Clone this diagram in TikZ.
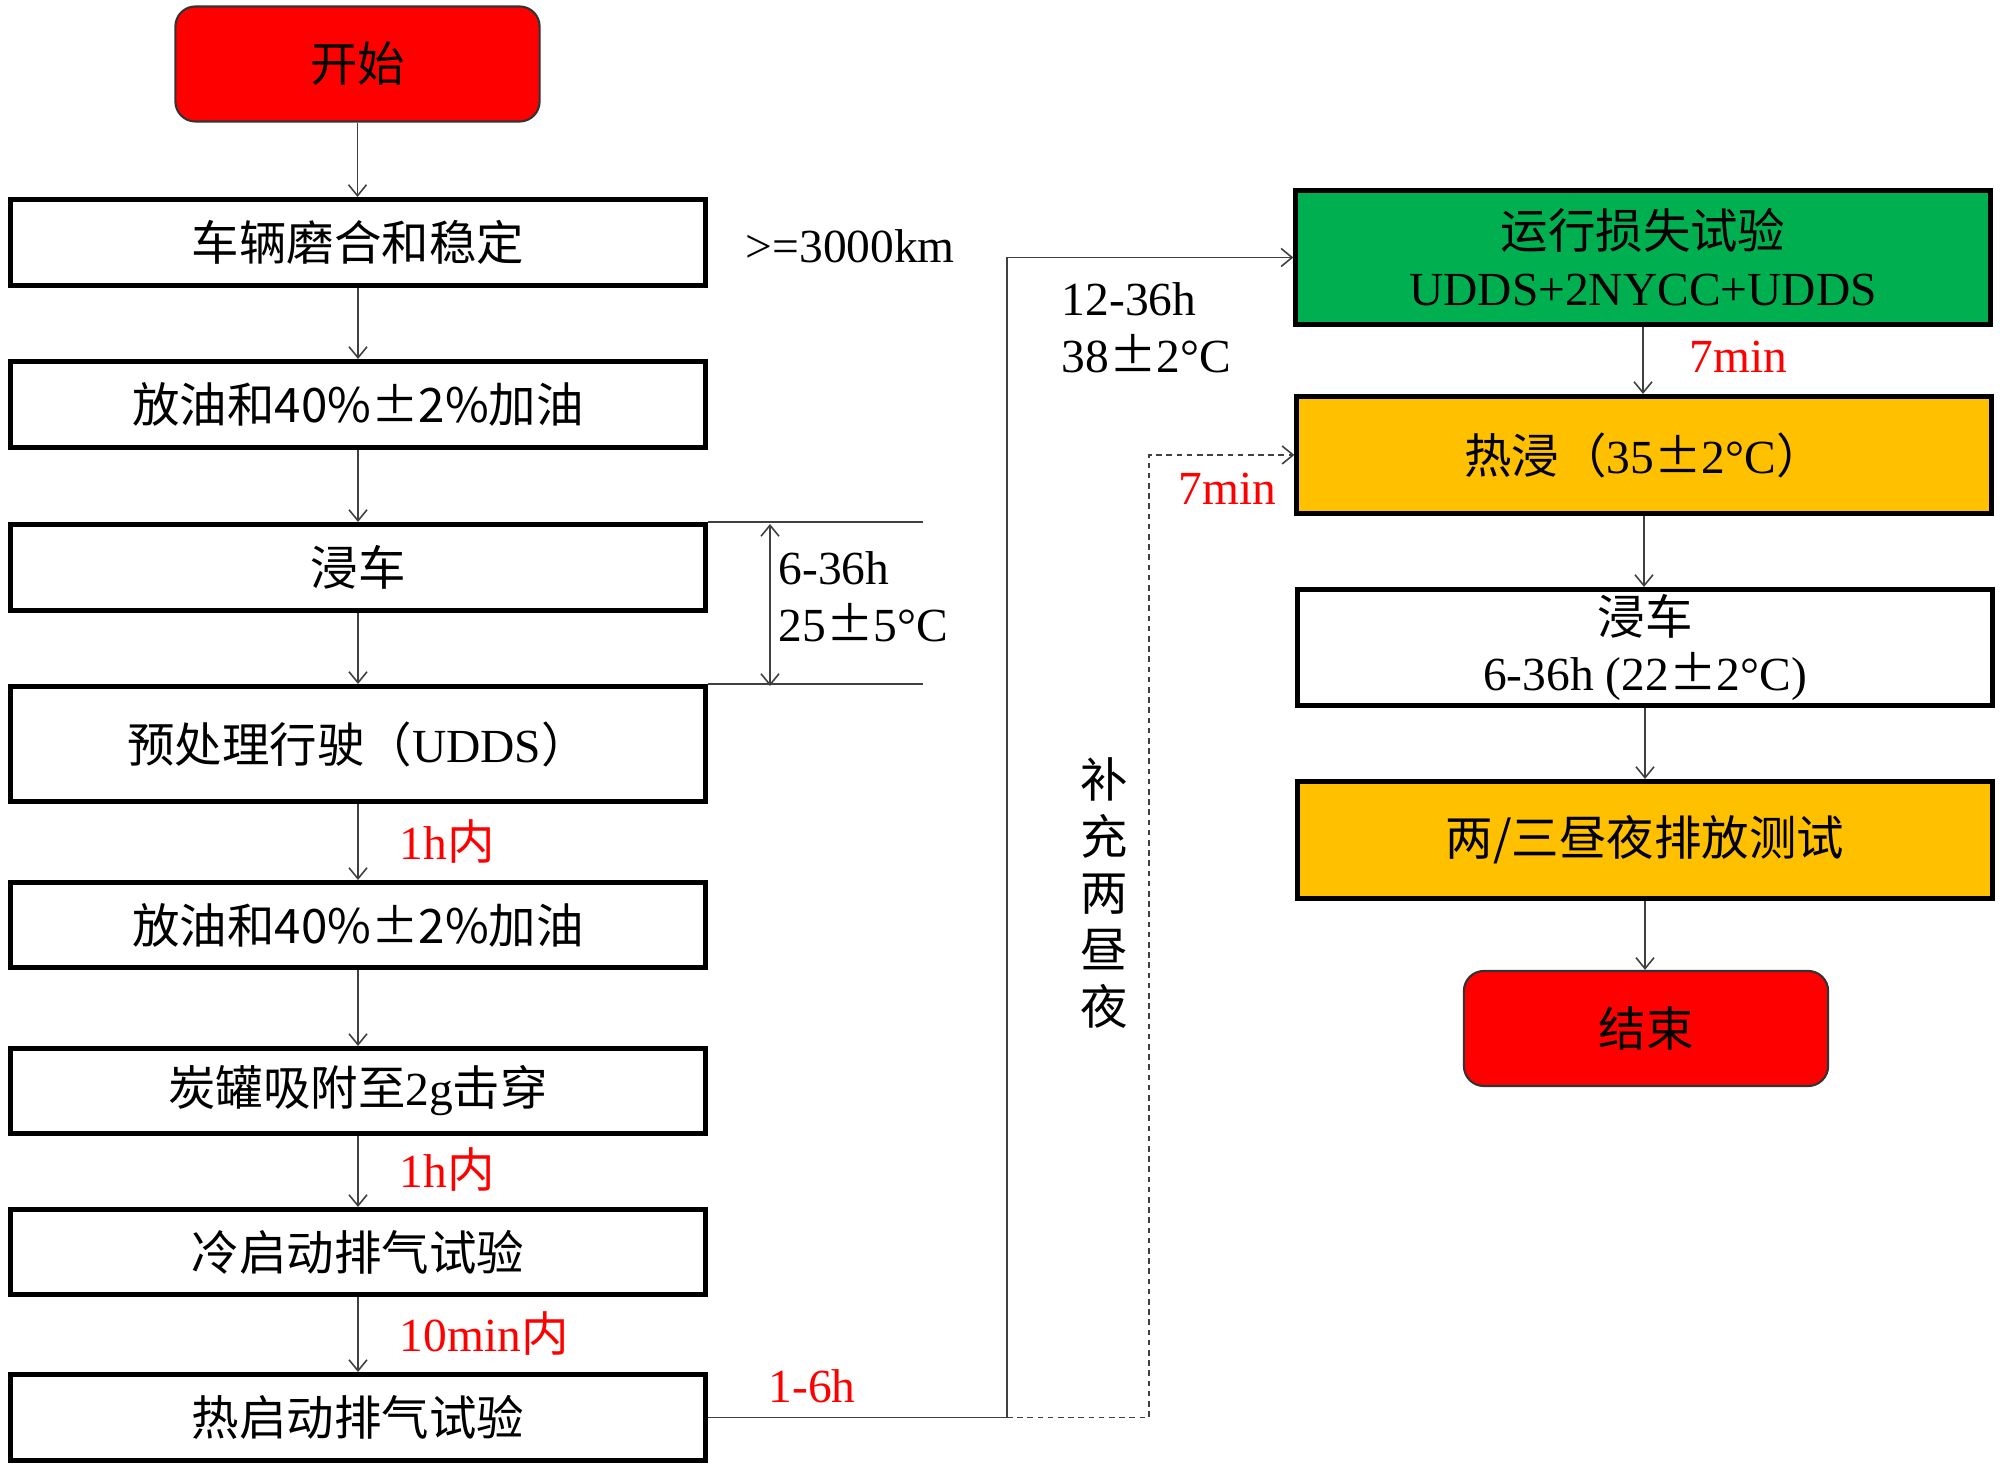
\documentclass[tikz,border=0pt]{standalone}
\usepackage{fontspec}
\setmainfont{Liberation Serif}
\newfontfamily\cjk{Noto Sans CJK SC}
\usetikzlibrary{arrows.meta}
\newcommand\zh[1]{{\cjk #1}}
\newcommand\fs{\fontsize{13.5}{16.2}\selectfont}
\definecolor{gbox}{HTML}{00B050}
\definecolor{ybox}{HTML}{FFC000}
\definecolor{rtxt}{HTML}{FF0000}
\begin{document}
\begin{tikzpicture}[x=0.01cm,y=-0.01cm,font=\fs,
  box/.style={draw=black, line width=1.4pt, minimum width=6.94cm, inner sep=0pt, align=center},
  rbox/.style={draw=black!80, line width=0.6pt, fill=red, rounded corners=0.2cm, minimum width=3.64cm, minimum height=1.15cm, inner sep=0pt},
  arr/.style={draw=black!75, line width=0.45pt, -{Straight Barb[length=1.1mm,width=1.8mm]}},
  thin/.style={draw=black!75, line width=0.45pt},
  lbl/.style={anchor=west, inner sep=0pt, align=left},
  rlbl/.style={lbl, text=rtxt}]
\useasboundingbox (0,0) rectangle (2000,1471);
% left column
\node[rbox] (start) at (357.5,64) {\zh{开始}};
\node[box, minimum height=0.86cm] (b1) at (358,242.5) {\zh{车辆磨合和稳定}};
\node[box, minimum height=0.86cm] (b2) at (358,404.5) {\zh{放油和40\%±2\%加油}};
\node[box, minimum height=0.86cm] (b3) at (358,567.5) {\zh{浸车}};
\node[box, minimum height=1.15cm] (b4) at (358,744) {\zh{预处理行驶（}UDDS\zh{）}};
\node[box, minimum height=0.85cm] (b5) at (358,925) {\zh{放油和40\%±2\%加油}};
\node[box, minimum height=0.85cm] (b6) at (358,1091) {\zh{炭罐吸附至}2g\zh{击穿}};
\node[box, minimum height=0.85cm] (b7) at (358,1252) {\zh{冷启动排气试验}};
\node[box, minimum height=0.86cm] (b8) at (358,1417.5) {\zh{热启动排气试验}};
% right column
\node[box, fill=gbox, minimum height=1.34cm] (green) at (1643,257.5) {\zh{运行损失试验}\\UDDS+2NYCC+UDDS};
\node[box, fill=ybox, minimum height=1.17cm] (hot) at (1644,455) {\zh{热浸（}35\zh{±}2°C\zh{）}};
\node[box, minimum height=1.16cm] (soak) at (1645,647.5) {\zh{浸车}\\6-36h (22\zh{±}2°C)};
\node[box, fill=ybox, minimum height=1.17cm] (two) at (1645,840) {\zh{两/三昼夜排放测试}};
\node[rbox] (end) at (1646,1028.5) {\zh{结束}};
% vertical arrows
\draw[arr] (start.south) -- (start.south |- b1.north);
\foreach \a/\b in {b1/b2,b2/b3,b3/b4,b4/b5,b5/b6,b6/b7,b7/b8,green/hot,hot/soak,soak/two,two/end}
  \draw[arr] (\a.south) -- (\a.south |- \b.north);
% soak bracket
\draw[thin] (b3.north east) -- ++(215,0);
\draw[thin] (b4.north east) -- ++(215,0);
\coordinate (d1) at (770,524);
\coordinate (d2) at (770,686);
\draw[thin, {Straight Barb[length=1.1mm,width=1.8mm]}-{Straight Barb[length=1.1mm,width=1.8mm]}] (d1) -- (d2);
% long connectors
\coordinate (j1) at (1007,1417.5);
\coordinate (j2) at (1149,1417.5);
\draw[arr] (b8.east) -- (j1) |- (green.west);
\draw[arr, dash pattern=on 1.6pt off 1.3pt] (j1) -- (j2) |- (hot.west);
% labels
\node[lbl] (km) at (745,246) {>=3000km};
\node[lbl] (t1) at (778,597) {6-36h\\25\zh{±}5°C};
\node[rlbl] (r1) at (399,842) {1h\zh{内}};
\node[rlbl] (r2) at (399,1170) {1h\zh{内}};
\node[rlbl] (r3) at (399,1334) {10min\zh{内}};
\node[rlbl] (r4) at (768,1386) {1-6h};
\node[lbl] (t2) at (1061,328) {12-36h\\38\zh{±}2°C};
\node[rlbl] (r5) at (1689,357) {7min};
\node[rlbl] (r6) at (1178,489) {7min};
\node[inner sep=0pt, align=center] (sup) at (1104,893) {\zh{补}\\\zh{充}\\\zh{两}\\\zh{昼}\\\zh{夜}};
\end{tikzpicture}
\end{document}
